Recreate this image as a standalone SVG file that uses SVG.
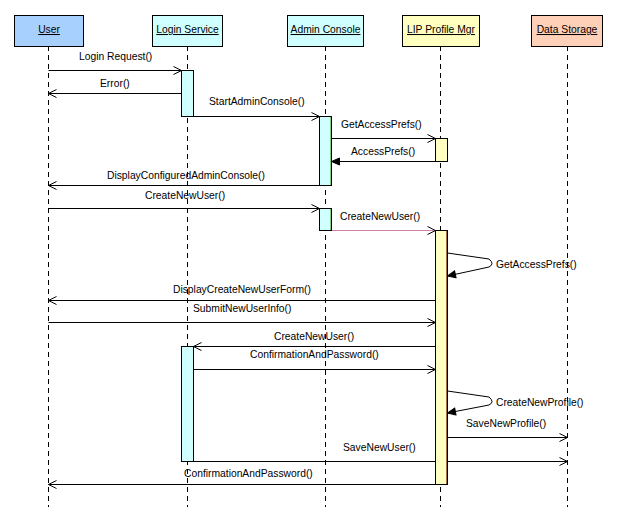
<svg xmlns="http://www.w3.org/2000/svg" width="617" height="521" viewBox="0 0 617 521">
<defs>
<style>
text{font-family:"Liberation Sans",Arial,sans-serif;font-size:10.3px;fill:#000}
.hdr{stroke:#000;stroke-width:1}
.hl{text-decoration:underline;text-anchor:middle}
.life{stroke:#000;stroke-width:1;stroke-dasharray:5,4}
.msg{stroke:#000;stroke-width:1;fill:none}
.act{stroke:#000;stroke-width:1}
</style>
<marker id="open" markerWidth="10" markerHeight="10" refX="9" refY="5" orient="auto" markerUnits="userSpaceOnUse">
<path d="M1,1 L9,5 L1,9" fill="none" stroke="#000" stroke-width="1"/>
</marker>
<marker id="filled" markerWidth="10" markerHeight="10" refX="9" refY="5" orient="auto" markerUnits="userSpaceOnUse">
<path d="M1,1.5 L9,5 L1,8.5 Z" fill="#000" stroke="#000" stroke-width="1"/>
</marker>
</defs>
<rect width="617" height="521" fill="#fff"/>

<g id="lifelines">
<line class="life" x1="48.5" y1="46" x2="48.5" y2="507"/>
<line class="life" x1="187.5" y1="46" x2="187.5" y2="507"/>
<line class="life" x1="325.5" y1="46" x2="325.5" y2="507"/>
<line class="life" x1="440.5" y1="46" x2="440.5" y2="507"/>
<line class="life" x1="567.5" y1="46" x2="567.5" y2="507"/>
</g>

<g id="user"><rect class="hdr" x="14.5" y="15.5" width="69" height="31" fill="#a8d0ff"/><text class="hl" x="49" y="33">User</text></g>
<g id="login-service"><rect class="hdr" x="152.5" y="15.5" width="70" height="31" fill="#d0ffff"/><text class="hl" x="187.5" y="33">Login Service</text></g>
<g id="admin-console"><rect class="hdr" x="287.5" y="15.5" width="76" height="31" fill="#d0ffff"/><text class="hl" x="325.5" y="33">Admin Console</text></g>
<g id="lip-profile-mgr"><rect class="hdr" x="402.5" y="15.5" width="77" height="31" fill="#ffffc0"/><text class="hl" x="441" y="33">LIP Profile Mgr</text></g>
<g id="data-storage"><rect class="hdr" x="531.5" y="15.5" width="71" height="31" fill="#ffd0b8"/><text class="hl" x="567" y="33">Data Storage</text></g>

<g id="connectors">
<line class="msg" x1="48.5" y1="70.5" x2="181.5" y2="70.5" marker-end="url(#open)"/>
<line class="msg" x1="181.5" y1="93.5" x2="48.5" y2="93.5" marker-end="url(#open)"/>
<line class="msg" x1="193.5" y1="116.5" x2="319.5" y2="116.5" marker-end="url(#open)"/>
<line class="msg" x1="331.5" y1="138.5" x2="435.5" y2="138.5" marker-end="url(#open)"/>
<line class="msg" x1="435.5" y1="161.5" x2="331.5" y2="161.5" marker-end="url(#filled)"/>
<line class="msg" x1="319.5" y1="185.5" x2="48.5" y2="185.5" marker-end="url(#open)"/>
<line class="msg" x1="48.5" y1="208.5" x2="319.5" y2="208.5" marker-end="url(#open)"/>
<line class="msg" x1="331.5" y1="230.5" x2="435.5" y2="230.5" stroke="#d070a0" style="stroke:#d080a8" marker-end="url(#open)"/>
<path class="msg" d="M447.5,253 L489,259 Q495,264 489,267 L447.5,276" marker-end="url(#filled)"/>
<line class="msg" x1="435.5" y1="300.5" x2="48.5" y2="300.5" marker-end="url(#open)"/>
<line class="msg" x1="48.5" y1="322.5" x2="435.5" y2="322.5" marker-end="url(#open)"/>
<line class="msg" x1="435.5" y1="346.5" x2="193.5" y2="346.5" marker-end="url(#open)"/>
<line class="msg" x1="193.5" y1="369.5" x2="435.5" y2="369.5" marker-end="url(#open)"/>
<path class="msg" d="M447.5,391 L489,397 Q495,402 489,405 L447.5,413" marker-end="url(#filled)"/>
<line class="msg" x1="447.5" y1="437.5" x2="567.5" y2="437.5" marker-end="url(#open)"/>
<line class="msg" x1="193.5" y1="461.5" x2="567.5" y2="461.5" marker-end="url(#open)"/>
<line class="msg" x1="435.5" y1="484.5" x2="48.5" y2="484.5" marker-end="url(#open)"/>
</g>

<g id="activations">
<rect class="act" x="181.5" y="70.5" width="12" height="46" fill="#d0ffff"/>
<rect class="act" x="319.5" y="116.5" width="12" height="69" fill="#d0ffff"/>
<line x1="330.5" y1="117" x2="330.5" y2="185" stroke="#80d080"/>
<rect class="act" x="435.5" y="138.5" width="12" height="23" fill="#ffffc0"/>
<rect class="act" x="319.5" y="208.5" width="12" height="22" fill="#d0ffff"/>
<line x1="330.5" y1="209" x2="330.5" y2="230" stroke="#80d080"/>
<rect class="act" x="435.5" y="230.5" width="12" height="254" fill="#ffffc0"/>
<line x1="446.5" y1="231" x2="446.5" y2="484" stroke="#a07040"/>
<rect class="act" x="181.5" y="346.5" width="12" height="115" fill="#d0ffff"/>
</g>

<g id="labels">
<text x="79" y="60">Login Request()</text>
<text x="100" y="87">Error()</text>
<text x="209" y="105">StartAdminConsole()</text>
<text x="341" y="128">GetAccessPrefs()</text>
<text x="351" y="155">AccessPrefs()</text>
<text x="107" y="179">DisplayConfiguredAdminConsole()</text>
<text x="145" y="199">CreateNewUser()</text>
<text x="340" y="220">CreateNewUser()</text>
<text x="496" y="268">GetAccessPrefs()</text>
<text x="173" y="293">DisplayCreateNewUserForm()</text>
<text x="193" y="312">SubmitNewUserInfo()</text>
<text x="274" y="340">CreateNewUser()</text>
<text x="250" y="358">ConfirmationAndPassword()</text>
<text x="496" y="406">CreateNewProfile()</text>
<text x="466" y="427">SaveNewProfile()</text>
<text x="343" y="451">SaveNewUser()</text>
<text x="184" y="477">ConfirmationAndPassword()</text>
</g>
</svg>
